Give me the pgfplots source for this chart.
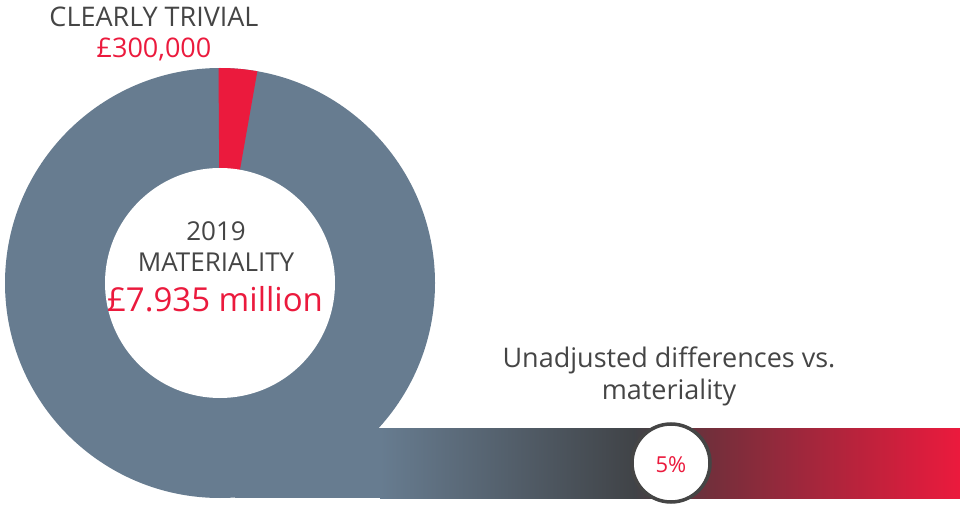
\documentclass[border=0pt]{standalone}
\usepackage{pgfplots}
\pgfplotsset{compat=1.18}
\usepackage{fontspec}
\setmainfont{Open Sans}
\definecolor{slate}{HTML}{677C90}
\definecolor{myred}{HTML}{EB1A3D}
\definecolor{txt}{HTML}{454545}
\definecolor{dgrey}{HTML}{404347}
\definecolor{maroon}{HTML}{722F3B}
% donut geometry (reference pixels)
\def\cx{220}\def\cy{223}\def\Ro{215}\def\Ri{115}
% share of clearly trivial slice (as drawn in reference)
\def\redstart{90.4}\def\redend{80}
\pgfmathsetmacro\xa{\cx+\Ro*cos(\redstart)}
\pgfmathsetmacro\ya{\cy+\Ro*sin(\redstart)}
\begin{document}
\begin{tikzpicture}
\begin{axis}[x=1pt,y=1pt,xmin=0,xmax=960,ymin=0,ymax=506,hide axis,clip=false]
\path (axis cs:0,0) rectangle (axis cs:960,506);
% gradient bar
\addplot[draw=none,fill=slate] coordinates {(235,8) (381,8) (381,78) (235,78)} -- cycle;
\addplot[draw=none,left color=slate,right color=dgrey] coordinates {(380,8) (635,8) (635,78) (380,78)} -- cycle;
\addplot[draw=none,left color=dgrey,right color=maroon] coordinates {(634,8) (709,8) (709,78) (634,78)} -- cycle;
\addplot[draw=none,left color=maroon,right color=myred] coordinates {(708,8) (960,8) (960,78) (708,78)} -- cycle;
% donut ring
\fill[slate] (axis cs:\cx,\cy) circle[radius=\Ro];
\fill[myred] (axis cs:\cx,\cy) -- (axis cs:\xa,\ya) arc[start angle=\redstart,end angle=\redend,radius=\Ro] -- cycle;
\fill[white] (axis cs:\cx,\cy) circle[radius=\Ri];
% circle marker
\draw[fill=white,draw=txt,line width=3.5pt] (axis cs:671,43) circle[radius=39];
% texts
\node[txt,font=\fontsize{27}{30}\selectfont] at (axis cs:154,489) {CLEARLY TRIVIAL};
\node[myred,font=\fontsize{27}{30}\selectfont] at (axis cs:154,457) {£300,000};
\node[txt,font=\fontsize{26}{30}\selectfont] at (axis cs:216,275) {2019};
\node[txt,font=\fontsize{26}{30}\selectfont] at (axis cs:216,244) {MATERIALITY};
\node[myred,font=\fontsize{33}{36}\selectfont] at (axis cs:215,207) {£7.935 million};
\node[txt,font=\fontsize{27}{30}\selectfont] at (axis cs:669,146) {Unadjusted differences vs.};
\node[txt,font=\fontsize{27}{30}\selectfont] at (axis cs:669,114) {materiality};
\node[myred,font=\fontsize{22}{24}\selectfont] at (axis cs:671,41) {5\%};
\end{axis}
\end{tikzpicture}
\end{document}
